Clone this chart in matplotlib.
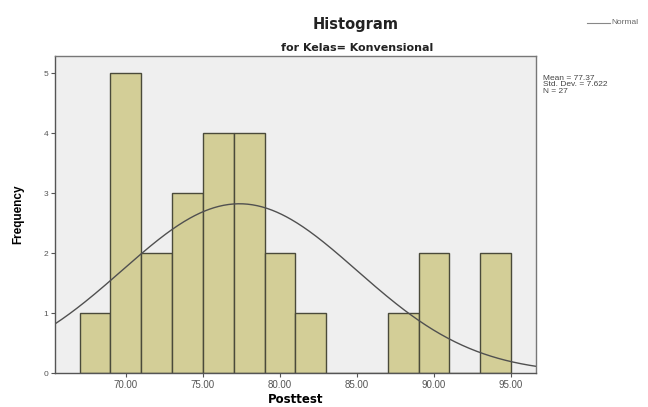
import numpy as np
import matplotlib
matplotlib.use("Agg")
import matplotlib.pyplot as plt

plt.rcParams["font.family"] = ["Liberation Sans", "DejaVu Sans"]

# Data
bin_edges = [67, 69, 71, 73, 75, 77, 79, 81, 83, 85, 87, 89, 91, 93, 95]
counts = [1, 5, 2, 3, 4, 4, 2, 1, 0, 0, 1, 2, 0, 2]
mean_val = 77.37
std_val = 7.622
n_val = 27
x_ticks = [70, 75, 80, 85, 90, 95]
x_tick_labels = ["70.00", "75.00", "80.00", "85.00", "90.00", "95.00"]
y_ticks = [0, 1, 2, 3, 4, 5]

W, H = 648, 407
fig = plt.figure(figsize=(W / 100, H / 100), dpi=100)
fig.patch.set_facecolor("white")
ax = fig.add_axes([55 / W, 1 - 373.3 / H, (535.7 - 55) / W, (373.3 - 56) / H])
ax.set_facecolor("#efefef")

lefts = np.array(bin_edges[:-1])
widths = np.diff(bin_edges)
ax.bar(lefts, counts, width=widths, align="edge", color="#d3ce97",
       edgecolor="#4a4a3a", linewidth=1.0)

xlim = (65.4, 96.6)
xs = np.linspace(xlim[0], xlim[1], 400)
bw = widths[0]
ys = n_val * bw / (std_val * np.sqrt(2 * np.pi)) * np.exp(-0.5 * ((xs - mean_val) / std_val) ** 2)
ax.plot(xs, ys, color="#505050", linewidth=1.0)

ax.set_xlim(*xlim)
ax.set_ylim(0, 5.29)
ax.set_xticks(x_ticks)
ax.set_xticklabels(x_tick_labels, fontsize=7, color="#555555")
ax.set_yticks(y_ticks)
ax.set_yticklabels([str(v) for v in y_ticks], fontsize=6, color="#555555")
ax.tick_params(axis="both", direction="out", length=3, width=0.8, color="#555555", pad=2)
for s in ax.spines.values():
    s.set_color("#777777")
    s.set_linewidth(1.0)
ax.spines["left"].set_color("#555555")
ax.spines["bottom"].set_color("#555555")

ax.set_xlabel("Posttest", fontsize=8.5, fontweight="bold", labelpad=2,
              family=["DejaVu Sans"])
ax.set_ylabel("Frequency", fontsize=8.5, fontweight="bold", labelpad=14)

fig.text(356 / W, 1 - 25 / H, "Histogram", ha="center", va="center",
         fontsize=10.5, fontweight="bold", color="#222222", family=["DejaVu Sans"])
fig.text(357 / W, 1 - 48 / H, "for Kelas= Konvensional", ha="center", va="center",
         fontsize=8, fontweight="bold", color="#222222", family=["DejaVu Sans"])

# Legend
fig.lines.append(plt.Line2D([587 / W, 610 / W], [1 - 23 / H, 1 - 23 / H],
                            transform=fig.transFigure, color="#888888", linewidth=0.8))
fig.text(611 / W, 1 - 23 / H, "Normal", ha="left", va="center", fontsize=6, color="#666666")

# Stats
fig.text(543 / W, 1 - 85 / H,
         "Mean = %.2f\nStd. Dev. = %.3f\nN = %d" % (mean_val, std_val, n_val),
         ha="left", va="center", fontsize=6, color="#444444", linespacing=0.95)

fig.savefig("out.png", dpi=100, facecolor="white")
